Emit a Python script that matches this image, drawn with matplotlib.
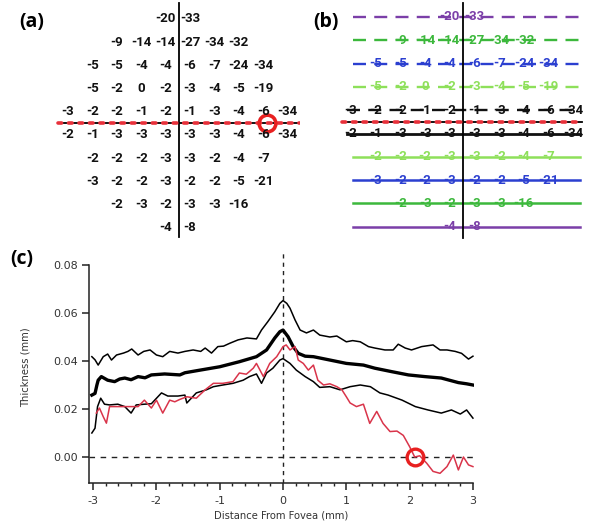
import matplotlib
matplotlib.use("Agg")
import matplotlib.pyplot as plt

# ---------------- data ----------------
grid_rows = [
    [-20, -33],
    [-9, -14, -14, -27, -34, -32],
    [-5, -5, -4, -4, -6, -7, -24, -34],
    [-5, -2, 0, -2, -3, -4, -5, -19],
    [-3, -2, -2, -1, -2, -1, -3, -4, -6, -34],
    [-2, -1, -3, -3, -3, -3, -3, -4, -6, -34],
    [-2, -2, -2, -3, -3, -2, -4, -7],
    [-3, -2, -2, -3, -2, -2, -5, -21],
    [-2, -3, -2, -3, -3, -16],
    [-4, -8],
]
row_colors = ['#7B3FA8', '#3CB83C', '#2B3FD0', '#8EE05A', '#111111',
              '#111111', '#8EE05A', '#2B3FD0', '#3CB83C', '#7B3FA8']
row_dashed = [True, True, True, True, True, False, False, False, False, False]
circle_a = (8.16, 4.48)

upper_x = [-3.02, -2.97, -2.92, -2.84, -2.77, -2.71, -2.63, -2.52, -2.45, -2.39,
           -2.29, -2.20, -2.10, -2.00, -1.90, -1.79, -1.66, -1.55, -1.42, -1.30,
           -1.23, -1.13, -1.03, -0.94, -0.84, -0.71, -0.57, -0.42, -0.34, -0.24,
           -0.13, -0.05, 0.00, 0.06, 0.11, 0.19, 0.27, 0.37, 0.48, 0.58,
           0.74, 0.85, 1.00, 1.10, 1.22, 1.35, 1.45, 1.61, 1.74, 1.82,
           1.93, 2.03, 2.19, 2.37, 2.48, 2.59, 2.72, 2.82, 2.93, 3.00]
upper_y = [0.0418, 0.0405, 0.0383, 0.0418, 0.0429, 0.0404, 0.0425, 0.0433, 0.0440, 0.0450,
           0.0425, 0.0440, 0.0446, 0.0425, 0.0418, 0.0440, 0.0433, 0.0440, 0.0446, 0.0440,
           0.0454, 0.0433, 0.0460, 0.0462, 0.0474, 0.0488, 0.0496, 0.0492, 0.0529, 0.0564,
           0.0605, 0.0640, 0.0652, 0.0640, 0.0620, 0.0571, 0.0529, 0.0517, 0.0529, 0.0508,
           0.0500, 0.0504, 0.0480, 0.0485, 0.0480, 0.0460, 0.0454, 0.0446, 0.0446, 0.0470,
           0.0454, 0.0446, 0.0460, 0.0467, 0.0446, 0.0446, 0.0440, 0.0432, 0.0408, 0.0420]

mean_x = [-3.02, -2.97, -2.94, -2.92, -2.87, -2.77, -2.66, -2.58, -2.50, -2.40,
          -2.29, -2.18, -2.08, -1.87, -1.63, -1.55, -1.31, -1.00, -0.69, -0.42,
          -0.26, -0.13, -0.05, 0.00, 0.08, 0.16, 0.24, 0.35, 0.48, 0.74,
          1.00, 1.27, 1.45, 1.71, 1.98, 2.24, 2.50, 2.77, 2.90, 3.00]
mean_y = [0.0258, 0.0265, 0.0300, 0.0320, 0.0335, 0.0320, 0.0314, 0.0325, 0.0329, 0.0322,
          0.0335, 0.0330, 0.0342, 0.0346, 0.0342, 0.0351, 0.0362, 0.0376, 0.0397, 0.0418,
          0.0446, 0.0496, 0.0522, 0.0529, 0.0501, 0.0460, 0.0432, 0.0420, 0.0418, 0.0404,
          0.0390, 0.0383, 0.0370, 0.0356, 0.0342, 0.0335, 0.0329, 0.0310, 0.0305, 0.0300]

lower_x = [-3.02, -2.97, -2.93, -2.88, -2.82, -2.74, -2.61, -2.50, -2.40, -2.32,
           -2.19, -2.08, -1.92, -1.82, -1.66, -1.55, -1.52, -1.37, -1.21, -1.10,
           -0.95, -0.79, -0.63, -0.53, -0.42, -0.34, -0.26, -0.16, -0.05, 0.00,
           0.11, 0.21, 0.35, 0.48, 0.58, 0.74, 0.90, 1.06, 1.22, 1.38,
           1.53, 1.66, 1.88, 2.09, 2.29, 2.50, 2.66, 2.80, 2.90, 3.00]
lower_y = [0.0100, 0.0120, 0.0210, 0.0245, 0.0220, 0.0217, 0.0220, 0.0210, 0.0183, 0.0217,
           0.0220, 0.0222, 0.0267, 0.0254, 0.0254, 0.0258, 0.0225, 0.0267, 0.0280, 0.0293,
           0.0300, 0.0307, 0.0320, 0.0335, 0.0346, 0.0307, 0.0350, 0.0370, 0.0404, 0.0410,
           0.0390, 0.0362, 0.0335, 0.0314, 0.0290, 0.0293, 0.0280, 0.0293, 0.0300, 0.0293,
           0.0267, 0.0258, 0.0237, 0.0210, 0.0196, 0.0183, 0.0196, 0.0179, 0.0196, 0.0162]

red_x = [-2.95, -2.90, -2.84, -2.79, -2.74, -2.61, -2.45, -2.29, -2.19, -2.08,
         -2.00, -1.90, -1.79, -1.71, -1.63, -1.52, -1.37, -1.23, -1.10, -0.95,
         -0.79, -0.69, -0.58, -0.47, -0.42, -0.31, -0.21, -0.10, 0.00, 0.05,
         0.11, 0.19, 0.24, 0.32, 0.40, 0.48, 0.55, 0.64, 0.74, 0.85,
         0.93, 1.00, 1.06, 1.16, 1.27, 1.37, 1.48, 1.58, 1.69, 1.80,
         1.90, 2.00, 2.08, 2.16, 2.27, 2.37, 2.48, 2.59, 2.69, 2.77,
         2.85, 2.93, 3.00]
red_y = [0.0183, 0.0204, 0.0168, 0.0141, 0.0210, 0.0210, 0.0210, 0.0210, 0.0237, 0.0204,
         0.0237, 0.0183, 0.0237, 0.0230, 0.0240, 0.0251, 0.0245, 0.0280, 0.0307, 0.0307,
         0.0314, 0.0350, 0.0345, 0.0370, 0.0390, 0.0335, 0.0390, 0.0418, 0.0460, 0.0467,
         0.0446, 0.0460, 0.0404, 0.0390, 0.0362, 0.0383, 0.0320, 0.0300, 0.0305, 0.0293,
         0.0280, 0.0251, 0.0225, 0.0210, 0.0220, 0.0140, 0.0190, 0.0140, 0.0106, 0.0108,
         0.0090, 0.0043, 0.0000, 0.0005, -0.0026, -0.0060, -0.0068, -0.0040, 0.0008, -0.0054,
         0.0000, -0.0033, -0.0040]
circle_c = (2.08, 0.0)

x_ticks = [-3, -2, -1, 0, 1, 2, 3]
y_ticks = [0.00, 0.02, 0.04, 0.06, 0.08]

# ---------------- figure ----------------
W, H = 590, 524
fig = plt.figure(figsize=(W / 100, H / 100), dpi=100)

num_font = dict(family=['Roboto', 'DejaVu Sans'],
                fontweight='bold', fontsize=9.5)


def px_axes(x0, y0, w, h):
    return fig.add_axes([x0 / W, 1 - (y0 + h) / H, w / W, h / H])


# ---- panel (a)
ax_a = px_axes(0, 0, 300, 245)
ax_a.set_xlim(-68 / 24.4, (300 - 68) / 24.4)
ax_a.set_ylim((245 - 19) / 23.2, -19 / 23.2)
ax_a.axis('off')
for r, vals in enumerate(grid_rows):
    start = 5 - len(vals) // 2
    for i, v in enumerate(vals):
        ax_a.text(start + i, r, str(v), ha='center', va='center',
                  color='#111111', **num_font)
ax_a.plot([4.55, 4.55], [-0.69, 9.4], color='black', lw=1.3)
ax_a.plot([-0.41, 9.5], [4.5, 4.5], color='black', lw=1.3)
ax_a.plot([-0.41, 9.5], [4.5, 4.5], color='#e8303a', lw=2.6,
          linestyle=(0, (1, 1.9)), dash_capstyle='round')
ax_a.plot([circle_a[0]], [circle_a[1]], marker='o', ms=12, mfc='none',
          mec='#e82020', mew=2.6)

# ---- panel (b)
ax_b = px_axes(300, 0, 290, 245)
ax_b.set_xlim(-51 / 24.7, (590 - 351) / 24.7)
ax_b.set_ylim((245 - 17) / 23.3, -17 / 23.3)
ax_b.axis('off')
for r, vals in enumerate(grid_rows):
    col = row_colors[r]
    if row_dashed[r]:
        x0 = -0.16 if r == 4 else 0.08
        ax_b.plot([x0, 9.27], [r, r], color=col, lw=1.7,
                  linestyle=(0, (5.5, 3.5)))
    else:
        x0 = -0.16 if r == 5 else 0.08
        ax_b.plot([x0, 9.27], [r, r], color=col, lw=2.0 if r == 5 else 1.8)
    start = 5 - len(vals) // 2
    for i, v in enumerate(vals):
        ax_b.text(start + i, r, str(v), ha='center', va='center',
                  color=col, **num_font)
ax_b.plot([4.53, 4.53], [-0.6, 9.5], color='black', lw=1.3)
ax_b.plot([-0.36, 9.35], [4.5, 4.5], color='black', lw=1.3)
ax_b.plot([-0.36, 9.35], [4.5, 4.5], color='#e8303a', lw=2.6,
          linestyle=(0, (1, 1.9)), dash_capstyle='round')

# ---- panel (c)
ax_c = fig.add_axes([89 / W, (H - 483.4) / H, (474.2 - 89) / W, (483.4 - 251.8) / H])
ax_c.set_xlim(-3.065, 3.02)
ax_c.set_ylim(-0.011, 0.0855)
ax_c.axhline(0, color='#222222', lw=1.0, linestyle=(0, (4, 4)))
ax_c.axvline(0, color='#222222', lw=1.0, linestyle=(0, (3, 3)))
ax_c.plot(upper_x, upper_y, color='black', lw=1.1)
ax_c.plot(lower_x, lower_y, color='black', lw=1.1)
ax_c.plot(mean_x, mean_y, color='black', lw=2.4)
ax_c.plot(red_x, red_y, color='#d9344a', lw=1.1)
ax_c.plot([circle_c[0]], [circle_c[1]], marker='o', ms=12, mfc='none',
          mec='#e82020', mew=2.4)

for s in ['top', 'right']:
    ax_c.spines[s].set_visible(False)
ax_c.spines['left'].set_bounds(-0.011, 0.08)
ax_c.spines['bottom'].set_bounds(-3.065, 3.0)
for s in ['left', 'bottom']:
    ax_c.spines[s].set_linewidth(1.1)
    ax_c.spines[s].set_color('#222222')
ax_c.set_xticks(x_ticks)
ax_c.set_xticklabels([str(t) for t in x_ticks])
ax_c.set_xticks([t / 5 for t in range(-15, 16) if t % 5 != 0], minor=True)
ax_c.set_yticks(y_ticks)
ax_c.set_yticklabels(['%.2f' % t for t in y_ticks])
ax_c.tick_params(axis='x', which='major', direction='out', length=5, width=1.1,
                 pad=4, labelsize=8, labelcolor='#333333', color='#222222')
ax_c.tick_params(axis='x', which='minor', direction='out', length=2.5, width=1.0,
                 color='#222222')
ax_c.tick_params(axis='y', which='major', direction='out', length=5, width=1.1,
                 pad=3, labelsize=8, labelcolor='#333333', color='#222222')
ax_c.set_xlabel('Distance From Fovea (mm)', fontsize=7.2, color='#333333', labelpad=3)
ax_c.set_ylabel('Thickness (mm)', fontsize=7.2, color='#333333', labelpad=16)

# panel labels
lab = dict(fontsize=14, fontweight='bold', ha='center', va='center',
           family=['Open Sans', 'DejaVu Sans'])
fig.text(32 / W, 1 - 22 / H, '(a)', **lab)
fig.text(326 / W, 1 - 22 / H, '(b)', **lab)
fig.text(22 / W, 1 - 259 / H, '(c)', **lab)

fig.savefig('out.png', dpi=100)
